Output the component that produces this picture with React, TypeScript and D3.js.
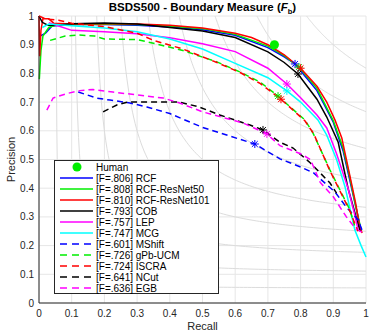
import React from 'react';
import * as d3 from 'd3';

// PR curves: [recall, precision]
const rcf = [[0.003, 0.93], [0.02, 0.94], [0.04, 0.965], [0.1, 0.97], [0.2, 0.97], [0.3, 0.968], [0.4, 0.962], [0.5, 0.952], [0.6, 0.933], [0.7, 0.89], [0.75, 0.858], [0.783, 0.833], [0.85, 0.74], [0.9, 0.63], [0.93, 0.53], [0.95, 0.43], [0.97, 0.33], [0.985, 0.25]];
const rcf50 = [[0.001, 0.78], [0.006, 0.88], [0.012, 0.93], [0.03, 0.96], [0.05, 0.968], [0.1, 0.97], [0.2, 0.971], [0.3, 0.97], [0.4, 0.965], [0.5, 0.956], [0.6, 0.936], [0.7, 0.895], [0.75, 0.862], [0.795, 0.822], [0.85, 0.748], [0.9, 0.635], [0.93, 0.54], [0.95, 0.44], [0.97, 0.33], [0.986, 0.25]];
const rcf101 = [[0.0, 1.0], [0.002, 0.86], [0.006, 0.95], [0.012, 0.99], [0.03, 0.99], [0.045, 0.975], [0.1, 0.972], [0.2, 0.973], [0.3, 0.972], [0.4, 0.968], [0.5, 0.958], [0.6, 0.94], [0.65, 0.925], [0.7, 0.9], [0.75, 0.865], [0.8, 0.818], [0.85, 0.755], [0.88, 0.7], [0.905, 0.638], [0.926, 0.575], [0.94, 0.5], [0.955, 0.42], [0.968, 0.35], [0.98, 0.27], [0.988, 0.244]];
const cob = [[0.0, 1.0], [0.01, 0.978], [0.027, 0.968], [0.05, 0.968], [0.1, 0.973], [0.2, 0.976], [0.3, 0.972], [0.4, 0.96], [0.5, 0.948], [0.6, 0.925], [0.7, 0.875], [0.75, 0.838], [0.792, 0.798], [0.85, 0.71], [0.88, 0.648], [0.915, 0.56], [0.945, 0.4], [0.972, 0.29], [0.982, 0.25]];
const lep = [[0.03, 0.977], [0.06, 0.965], [0.1, 0.95], [0.2, 0.945], [0.3, 0.938], [0.4, 0.924], [0.5, 0.903], [0.6, 0.876], [0.7, 0.818], [0.758, 0.763], [0.8, 0.715], [0.85, 0.655], [0.88, 0.61], [0.91, 0.52], [0.945, 0.4], [0.965, 0.31], [0.976, 0.254], [0.987, 0.247]];
const mcg = [[0.01, 0.96], [0.03, 0.972], [0.1, 0.966], [0.2, 0.958], [0.3, 0.945], [0.4, 0.92], [0.5, 0.885], [0.6, 0.835], [0.7, 0.785], [0.758, 0.739], [0.8, 0.7], [0.853, 0.638], [0.88, 0.585], [0.91, 0.5], [0.936, 0.404], [0.966, 0.254], [0.985, 0.2], [1.0, 0.16]];
const mshift = [[0.12, 0.735], [0.177, 0.714], [0.217, 0.707], [0.278, 0.697], [0.33, 0.683], [0.4, 0.66], [0.5, 0.612], [0.66, 0.554], [0.737, 0.502], [0.8, 0.474], [0.84, 0.453], [0.905, 0.387], [0.94, 0.334], [0.976, 0.29], [0.99, 0.247]];
const gpb = [[0.034, 0.915], [0.08, 0.93], [0.12, 0.934], [0.17, 0.93], [0.2, 0.92], [0.3, 0.918], [0.35, 0.905], [0.44, 0.88], [0.544, 0.84], [0.615, 0.805], [0.676, 0.77], [0.731, 0.721], [0.813, 0.638], [0.838, 0.592], [0.89, 0.463], [0.951, 0.324], [0.965, 0.27]];
const iscra = [[0.0, 1.0], [0.02, 0.99], [0.06, 0.985], [0.1, 0.975], [0.2, 0.963], [0.3, 0.94], [0.35, 0.915], [0.44, 0.885], [0.544, 0.838], [0.615, 0.803], [0.676, 0.765], [0.74, 0.71], [0.813, 0.635], [0.84, 0.59], [0.89, 0.46], [0.951, 0.32], [0.975, 0.25]];
const ncut = [[0.196, 0.666], [0.238, 0.69], [0.27, 0.7], [0.33, 0.7], [0.43, 0.7], [0.49, 0.683], [0.553, 0.655], [0.645, 0.62], [0.685, 0.603], [0.737, 0.56], [0.777, 0.54], [0.83, 0.488], [0.89, 0.418], [0.91, 0.383]];
const egb = [[0.024, 0.672], [0.043, 0.714], [0.086, 0.73], [0.125, 0.74], [0.165, 0.744], [0.226, 0.735], [0.278, 0.728], [0.38, 0.714], [0.43, 0.697], [0.5, 0.666], [0.625, 0.627], [0.697, 0.589], [0.737, 0.548], [0.8, 0.52], [0.83, 0.5], [0.86, 0.42], [0.9, 0.37], [0.94, 0.3], [0.972, 0.254]];

// best-F points (asterisks)
const bestF = [[0.783, 0.833], [0.795, 0.822], [0.8, 0.818], [0.792, 0.798], [0.758, 0.763], [0.758, 0.739], [0.66, 0.554], [0.731, 0.721], [0.74, 0.71], [0.685, 0.603], [0.697, 0.589]];
const human = [0.72, 0.9];

const names = ['[F=.806] RCF', '[F=.808] RCF-ResNet50', '[F=.810] RCF-ResNet101', '[F=.793] COB', '[F=.757] LEP', '[F=.747] MCG', '[F=.601] MShift', '[F=.726] gPb-UCM', '[F=.724] ISCRA', '[F=.641] NCut', '[F=.636] EGB'];
const colors = ['#0000ff', '#00ee00', '#ff0000', '#000000', '#ff00ff', '#00ffff', '#0000ff', '#00ee00', '#ff0000', '#000000', '#ff00ff'];
const dashed = [false, false, false, false, false, false, true, true, true, true, true];
const curves = [rcf, rcf50, rcf101, cob, lep, mcg, mshift, gpb, iscra, ncut, egb];

const ticks = [0, 0.1, 0.2, 0.3, 0.4, 0.5, 0.6, 0.7, 0.8, 0.9, 1];
const isoF = [0.1, 0.2, 0.3, 0.4, 0.5, 0.6, 0.7, 0.8, 0.9];

const App = () => {
    const width = 373, height = 332;
    const x = d3.scaleLinear().domain([0, 1]).range([39, 366]);
    const y = d3.scaleLinear().domain([0, 1]).range([303, 16]);
    const line = d3.line().x(d => x(d[0])).y(d => y(d[1]));
    const font = 'Liberation Sans, Arial, sans-serif';
    const axisColor = '#262626';

    // iso-F reference curves
    const isoPaths = isoF.map(f => {
        const r0 = f / (2 - f);
        const pts = d3.range(0, 101).map(i => {
            const r = r0 + (1 - r0) * Math.pow(i / 100, 1.6);
            return [r, f * r / (2 * r - f)];
        });
        return line(pts);
    });

    const star = (cx, cy, c, k) => {
        const s = 4, d = 2.9;
        return (
            <g key={k} stroke={c} strokeWidth={1}>
                <line x1={cx - s} y1={cy} x2={cx + s} y2={cy} />
                <line x1={cx} y1={cy - s} x2={cx} y2={cy + s} />
                <line x1={cx - d} y1={cy - d} x2={cx + d} y2={cy + d} />
                <line x1={cx - d} y1={cy + d} x2={cx + d} y2={cy - d} />
            </g>
        );
    };

    const legY = i => 167 + i * 11;

    return (
        <svg width={width} height={height} style={{ position: 'absolute', left: 0, top: 0, background: '#fff' }} fontFamily={font}>
            <rect x={0} y={0} width={width} height={height} fill="#fff" />
            <defs>
                <clipPath id="plotArea">
                    <rect x={39} y={16} width={327} height={287} />
                </clipPath>
            </defs>
            {/* grid */}
            <g stroke="#e6e6e6" strokeWidth={1}>
                {ticks.map(t => <line key={'gx' + t} x1={x(t)} x2={x(t)} y1={y(0)} y2={y(1)} />)}
                {ticks.map(t => <line key={'gy' + t} x1={x(0)} x2={x(1)} y1={y(t)} y2={y(t)} />)}
            </g>
            <g clipPath="url(#plotArea)" fill="none" stroke="#dcdcdc" strokeWidth={1}>
                {isoPaths.map((p, i) => <path key={'iso' + i} d={p} />)}
            </g>
            {/* curves */}
            <g fill="none" strokeWidth={1.5}>
                {curves.map((c, i) => (
                    <path key={'c' + i} d={line(c)} stroke={colors[i]} strokeDasharray={dashed[i] ? '6,4' : null} />
                ))}
            </g>
            {bestF.map((p, i) => star(x(p[0]), y(p[1]), colors[i], 's' + i))}
            <circle cx={x(human[0])} cy={y(human[1])} r={4.5} fill="#00ee00" />
            {/* axes */}
            <line x1={x(0)} x2={x(0)} y1={y(0)} y2={y(1)} stroke={axisColor} strokeWidth={1} />
            <line x1={x(0)} x2={x(1)} y1={y(0)} y2={y(0)} stroke={axisColor} strokeWidth={1} />
            <g fontSize={10} fill={axisColor}>
                {ticks.map(t => (
                    <text key={'xt' + t} x={x(t)} y={313} textAnchor="middle" dominantBaseline="central">{t === 0 || t === 1 ? String(t) : t.toFixed(1)}</text>
                ))}
                {ticks.map(t => (
                    <text key={'yt' + t} x={34} y={y(t)} textAnchor="end" dominantBaseline="central">{t === 0 || t === 1 ? String(t) : t.toFixed(1)}</text>
                ))}
            </g>
            <text x={(x(0) + x(1)) / 2} y={326} textAnchor="middle" dominantBaseline="central" fontSize={11} fill={axisColor}>Recall</text>
            <text transform={`translate(11,${(y(0) + y(1)) / 2}) rotate(-90)`} textAnchor="middle" dominantBaseline="central" fontSize={11} fill={axisColor}>Precision</text>
            <text x={(x(0) + x(1)) / 2} y={11} textAnchor="middle" fontSize={11.5} fontWeight="bold" fill="#000">
                <tspan>BSDS500 - Boundary Measure (</tspan>
                <tspan fontStyle="italic">F</tspan>
                <tspan fontSize={7.5} dy={2.5}>b</tspan>
                <tspan dy={-2.5}>)</tspan>
            </text>
            {/* legend */}
            <rect x={54.5} y={160.5} width={164} height={133} fill="#fff" stroke={axisColor} strokeWidth={1} />
            <circle cx={77} cy={legY(0)} r={4.5} fill="#00ee00" />
            <text x={96} y={legY(0)} dominantBaseline="central" fontSize={10} fill="#000">Human</text>
            {names.map((n, i) => (
                <g key={'l' + i}>
                    <line x1={60} x2={93} y1={legY(i + 1)} y2={legY(i + 1)} stroke={colors[i]} strokeWidth={1.5} strokeDasharray={dashed[i] ? '7,5' : null} />
                    <text x={96} y={legY(i + 1)} dominantBaseline="central" fontSize={10} fill="#000">{n}</text>
                </g>
            ))}
        </svg>
    );
};

export default App;
